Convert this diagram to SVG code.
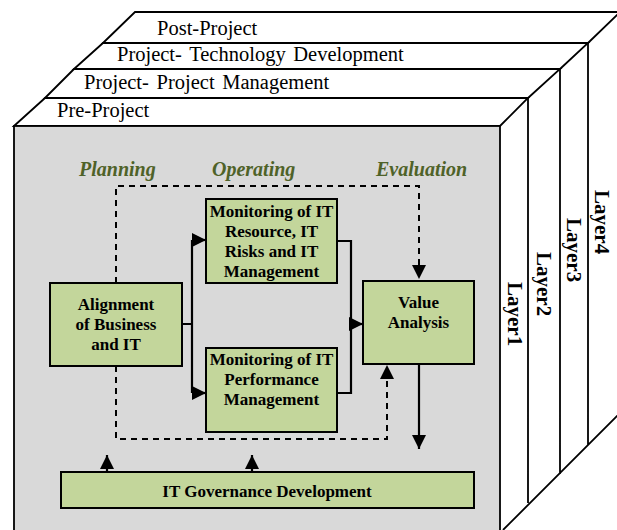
<svg xmlns="http://www.w3.org/2000/svg" width="617" height="530" viewBox="0 0 617 530">
<style>
.edge{fill:none;stroke:#000;stroke-width:1.8;stroke-linejoin:miter}
.band{fill:#fff;stroke:#000;stroke-width:1.8}
.bandtxt{font-family:"Liberation Serif","Times New Roman",serif;font-size:20.5px;fill:#000}
.wide{word-spacing:2.5px}
.layer{font-family:"Liberation Serif","Times New Roman",serif;font-size:21px;font-weight:bold;fill:#000}
.phase{font-family:"Liberation Serif","Times New Roman",serif;font-size:20px;font-weight:bold;font-style:italic;fill:#4f6228}
.box{fill:#c3d69b;stroke:#000;stroke-width:2}
.btxt{font-family:"Liberation Serif","Times New Roman",serif;font-size:17px;font-weight:bold;fill:#000;text-anchor:middle}
.conn{fill:none;stroke:#000;stroke-width:2.2}
.dash{fill:none;stroke:#000;stroke-width:2;stroke-dasharray:6 5}
</style>
<defs>
<marker id="ah" viewBox="0 0 14 14" refX="14" refY="7" markerWidth="14" markerHeight="14" markerUnits="userSpaceOnUse" orient="auto">
<path d="M0,0 L14,7 L0,14 z" fill="#000"/>
</marker>
</defs>
<rect width="617" height="530" fill="#fff"/>
<g id="cube">
<polygon class="band" points="103,43 135,12 620,12 588,43"/>
<polygon class="band" points="74,69 103,43 588,43 560,69"/>
<polygon class="band" points="45,98 74,69 560,69 528,98"/>
<polygon class="band" points="14,126 45,98 528,98 500,126"/>
<rect x="14" y="126" width="486" height="410" fill="#d9d9d9" stroke="#000" stroke-width="1.8"/>
<path class="edge" d="M528,98 V503 M560,69 V474 M588,43 V445 M503,530 L620,413"/>
</g>
<g id="band-labels">
<text class="bandtxt" x="157" y="35">Post-Project</text>
<text class="bandtxt wide" x="117" y="61">Project- Technology Development</text>
<text class="bandtxt wide" x="84" y="89">Project- Project Management</text>
<text class="bandtxt" x="57" y="117">Pre-Project</text>
</g>
<g id="layer-labels">
<text class="layer" transform="translate(595,190) rotate(90)">Layer4</text>
<text class="layer" transform="translate(566.5,218) rotate(90)">Layer3</text>
<text class="layer" transform="translate(537,252) rotate(90)">Layer2</text>
<text class="layer" transform="translate(508,282) rotate(90)">Layer1</text>
</g>
<g id="phases">
<text class="phase" x="79" y="176">Planning</text>
<text class="phase" x="212" y="176">Operating</text>
<text class="phase" x="376" y="176">Evaluation</text>
</g>
<g id="connectors">
<path class="dash" d="M116,283 V186 H419 V279" marker-end="url(#ah)"/>
<path class="dash" d="M116,366 V439 H387 V365" marker-end="url(#ah)"/>
<path class="conn" d="M182,324 H192 M192,240 V393"/>
<path class="conn" d="M192,240 H206" marker-end="url(#ah)"/>
<path class="conn" d="M192,393 H206" marker-end="url(#ah)"/>
<path class="conn" d="M337,241 H351 V393 H337"/>
<path class="conn" d="M351,324 H363" marker-end="url(#ah)"/>
<path class="conn" d="M419,364 V449" marker-end="url(#ah)"/>
<path class="conn" d="M107,472 V455" marker-end="url(#ah)"/>
<path class="conn" d="M252,472 V455" marker-end="url(#ah)"/>
</g>
<g id="alignment">
<rect class="box" x="50" y="283" width="132" height="83"/>
<text class="btxt" x="116" y="310">Alignment</text>
<text class="btxt" x="116" y="330">of Business</text>
<text class="btxt" x="116" y="350">and IT</text>
</g>
<g id="monitoring-resource">
<rect class="box" x="206" y="199" width="131" height="84"/>
<text class="btxt" x="271.5" y="217">Monitoring of IT</text>
<text class="btxt" x="271.5" y="237">Resource, IT</text>
<text class="btxt" x="271.5" y="257">Risks and IT</text>
<text class="btxt" x="271.5" y="277">Management</text>
</g>
<g id="monitoring-performance">
<rect class="box" x="206" y="348" width="131" height="84"/>
<text class="btxt" x="271.5" y="365">Monitoring of IT</text>
<text class="btxt" x="271.5" y="385">Performance</text>
<text class="btxt" x="271.5" y="405">Management</text>
</g>
<g id="value-analysis">
<rect class="box" x="363" y="281" width="111" height="83"/>
<text class="btxt" x="418.5" y="308">Value</text>
<text class="btxt" x="418.5" y="328">Analysis</text>
</g>
<g id="it-governance">
<rect class="box" x="61" y="472" width="413" height="36"/>
<text class="btxt" x="267" y="497">IT Governance Development</text>
</g>
</svg>
